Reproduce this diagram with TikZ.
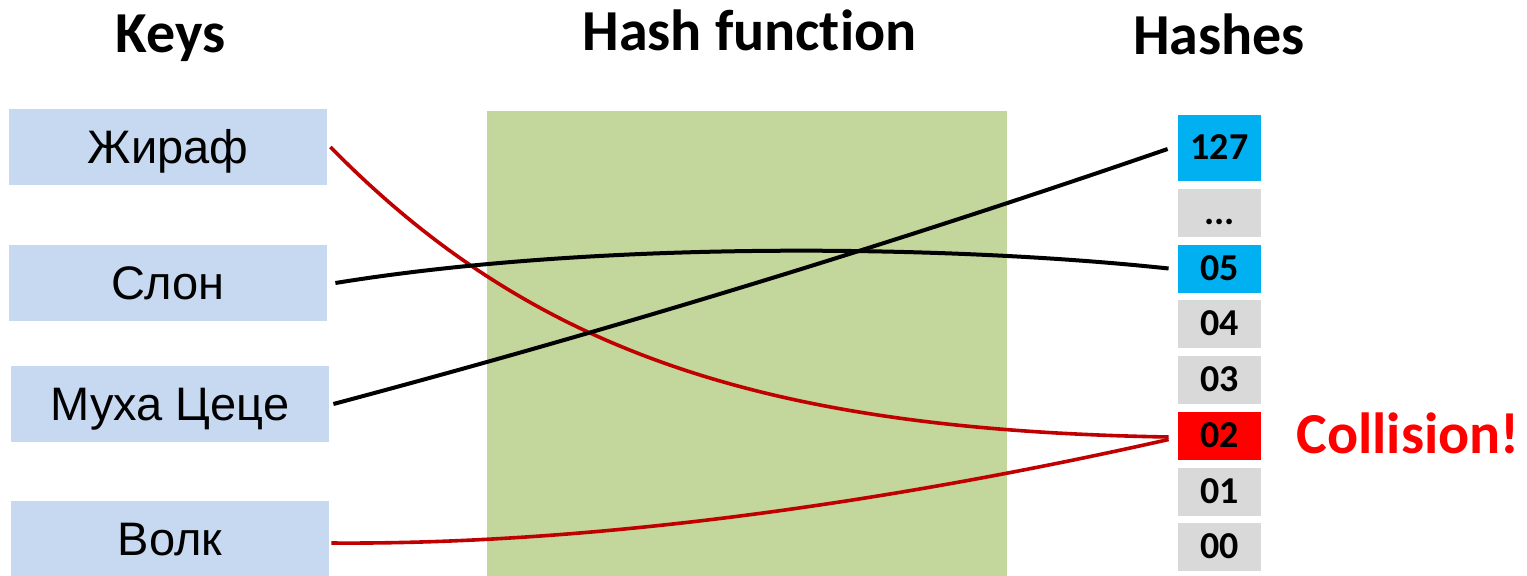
\documentclass[tikz,border=0pt]{standalone}
\usepackage{fontspec}
\setmainfont{Liberation Sans}
\newfontfamily\calfont[Ligatures={NoCommon}]{Carlito}
\definecolor{keyblue}{HTML}{C6D9F0}
\definecolor{fngreen}{HTML}{C3D69B}
\definecolor{hashcyan}{HTML}{00B0F0}
\definecolor{hashgrey}{HTML}{D9D9D9}
\definecolor{hashred}{HTML}{FF0000}
\definecolor{linered}{HTML}{C00000}
\begin{document}
\begin{tikzpicture}[x=0.5pt,y=-0.5pt,
  keybox/.style={fill=keyblue, draw=none, inner sep=0pt, minimum width=159pt, minimum height=38pt,
    font=\fontsize{23.5}{28}\selectfont, text height=16.8pt, text depth=0pt},
  hashbox/.style={fill=hashgrey, draw=none, inner sep=0pt, minimum width=41.5pt, minimum height=24pt,
    font=\calfont\bfseries\fontsize{19}{22}\selectfont, text height=11.5pt, text depth=0pt},
  title/.style={font=\calfont\bfseries\fontsize{29}{34}\selectfont, inner sep=0pt, anchor=base},
  blackline/.style={draw=black, line width=2pt},
  redline/.style={draw=linered, line width=1.8pt}]
\useasboundingbox (0,0) rectangle (1527,575);
% hash function block
\node[fill=fngreen, inner sep=0pt, minimum width=260pt, minimum height=240pt, anchor=north west] (fn) at (487,111) {};
% titles
\node[title] (tkeys) at (170.5,52) {Keys};
\node[title] (tfn) at (749.5,50) {Hash function};
\node[title] (thash) at (1219,54) {Hashes};
% keys
\node[keybox] (k1) at (168,147) {Жираф};
\node[keybox] (k2) at (168,283) {Слон};
\node[keybox] (k3) at (170,404) {Муха Цеце};
\node[keybox] (k4) at (170,539) {Волк};
% hashes
\node[hashbox, fill=hashcyan, minimum height=33pt] (h127) at (1219.5,148) {127};
\node[hashbox] (hdots) at (1219.5,213) {...};
\node[hashbox, fill=hashcyan] (h05) at (1219.5,268.5) {05};
\node[hashbox] (h04) at (1219.5,324) {04};
\node[hashbox] (h03) at (1219.5,380) {03};
\node[hashbox, fill=hashred] (h02) at (1219.5,435.5) {02};
\node[hashbox] (h01) at (1219.5,492) {01};
\node[hashbox] (h00) at (1219.5,547) {00};
\node[title, anchor=base west, text=hashred] (coll) at (1296,453) {Collision!};
% connectors
\draw[redline] ([xshift=1.5pt]k1.east) .. controls (530,350) and (760,430) .. ([xshift=-4.5pt,yshift=-0.75pt]h02.west);
\draw[blackline] ([xshift=4pt]k2.east) .. controls (600,240) and (950,245) .. ([xshift=-4.5pt]h05.west);
\draw[blackline] ([xshift=2pt]k3.east) .. controls (611,330) and (889,245) .. ([xshift=-5pt,yshift=-0.5pt]h127.west);
\draw[redline] ([xshift=1pt,yshift=-2pt]k4.east) .. controls (600,545) and (900,500) .. ([xshift=-4.5pt,yshift=-2pt]h02.west);
\end{tikzpicture}
\end{document}
